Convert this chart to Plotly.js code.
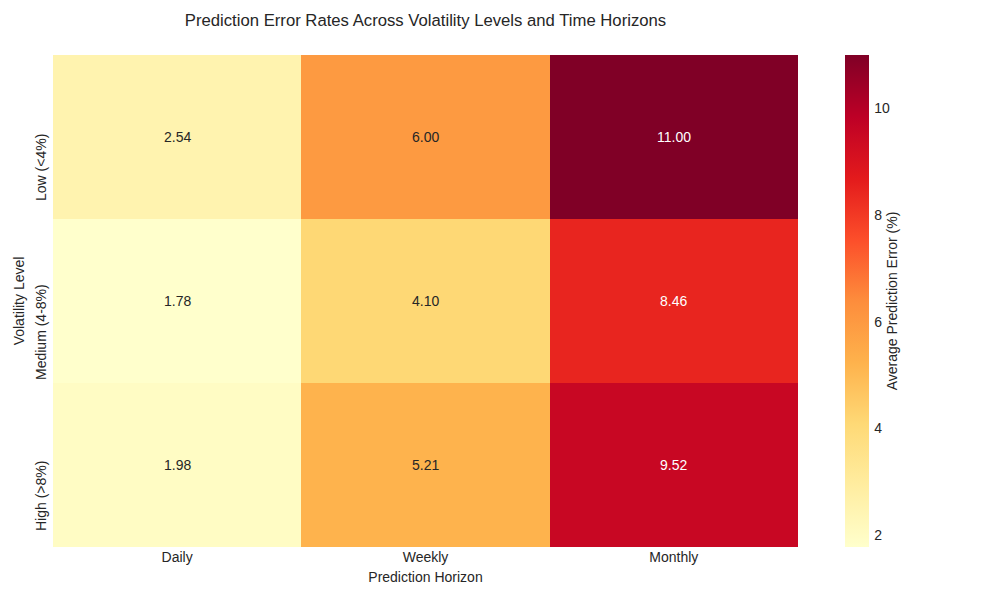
<!DOCTYPE html>
<html>
<head>
<meta charset="utf-8">
<script src="https://cdn.plot.ly/plotly-3.0.1.min.js"></script>
<style>html,body{margin:0;padding:0;background:#fff;}#chart{width:1000px;height:600px;}</style>
</head>
<body>
<div id="chart"></div>
<script>
const horizons = ['Daily', 'Weekly', 'Monthly'];
const levels = ['Low (<4%)', 'Medium (4-8%)', 'High (>8%)'];
const lowVol = [2.54, 6.00, 11.00];
const mediumVol = [1.78, 4.10, 8.46];
const highVol = [1.98, 5.21, 9.52];
const colorbarTicks = [2, 4, 6, 8, 10];

const z = [lowVol, mediumVol, highVol];
const zmin = Math.min(...z.flat());
const zmax = Math.max(...z.flat());

const ylorrd = [
  [0.0, '#ffffcc'], [0.125, '#ffeda0'], [0.25, '#fed976'], [0.375, '#feb24c'],
  [0.5, '#fd8d3c'], [0.625, '#fc4e2a'], [0.75, '#e31a1c'], [0.875, '#bd0026'], [1.0, '#800026']
];

const FONT = 'Liberation Sans, Arial, sans-serif';
const TXT = '#262626';
const annotations = [];
z.forEach((row, i) => row.forEach((v, j) => {
  const frac = (v - zmin) / (zmax - zmin);
  annotations.push({
    x: horizons[j], y: levels[i], xref: 'x', yref: 'y',
    text: v.toFixed(2), showarrow: false,
    font: {family: FONT, size: 14, color: frac > 0.55 ? '#ffffff' : TXT}
  });
}));
// y category labels (rotated, offset like the reference)
levels.forEach(lv => {
  annotations.push({
    x: (41 - 53) / 745, xref: 'paper', xanchor: 'center',
    y: lv, yref: 'y', yanchor: 'middle', yshift: -31,
    text: lv, textangle: -90, showarrow: false,
    font: {family: FONT, size: 14, color: TXT}
  });
});

const trace = {
  type: 'heatmap', x: horizons, y: levels, z: z,
  zmin: zmin, zmax: zmax, colorscale: ylorrd,
  colorbar: {
    x: (845 - 53) / 745, xanchor: 'left', xref: 'paper', xpad: 0, ypad: 0,
    y: 0.5, yanchor: 'middle', len: 1, lenmode: 'fraction',
    thickness: 24, thicknessmode: 'pixels', outlinewidth: 0,
    tickvals: colorbarTicks, ticks: 'outside', ticklen: 3, tickcolor: 'rgba(0,0,0,0)',
    tickfont: {family: FONT, size: 14, color: TXT},
    title: {text: 'Average Prediction Error (%)', side: 'right', font: {family: FONT, size: 14, color: TXT}}
  }
};

const layout = {
  width: 1000, height: 600,
  margin: {l: 53, r: 202, t: 55, b: 53},
  paper_bgcolor: '#ffffff', plot_bgcolor: '#ffffff',
  font: {family: FONT, color: TXT},
  title: {text: 'Prediction Error Rates Across Volatility Levels and Time Horizons',
          x: 0.5, xref: 'paper', y: 1 - 20 / 600, yref: 'container', yanchor: 'middle',
          font: {family: FONT, size: 16.7, color: TXT}},
  xaxis: {type: 'category', showgrid: false, zeroline: false, ticks: '', showline: false,
          tickfont: {family: FONT, size: 14, color: TXT},
          title: {text: 'Prediction Horizon', standoff: 8, font: {family: FONT, size: 14, color: TXT}}},
  yaxis: {type: 'category', autorange: 'reversed', showgrid: false, zeroline: false, ticks: '', showline: false,
          showticklabels: false,
          title: {text: 'Volatility Level', standoff: 24, font: {family: FONT, size: 14, color: TXT}}},
  annotations: annotations
};

Plotly.newPlot('chart', [trace], layout, {displayModeBar: false, staticPlot: true});
</script>
</body>
</html>
